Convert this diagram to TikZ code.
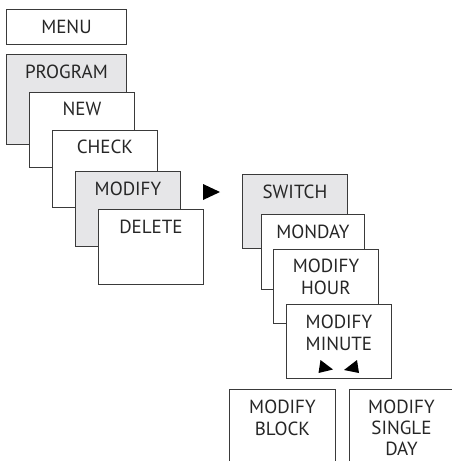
\documentclass[tikz,border=0pt]{standalone}
\usepackage{fontspec}
\setmainfont{PT Sans}
\definecolor{boxgray}{HTML}{E6E6E8}
\definecolor{edge}{HTML}{3A3A3A}
\tikzset{
  panel/.style={draw=edge, line width=0.9pt, fill=white, anchor=north west, inner sep=0pt},
  graypanel/.style={panel, fill=boxgray},
  lbl/.style={anchor=north, inner sep=0pt, align=center, text=black!85,
              font=\fontsize{19}{22}\selectfont},
}
\begin{document}
\begin{tikzpicture}[x=1pt,y=-1pt]
\useasboundingbox (0,0) rectangle (452,461);
\clip (0,0) rectangle (452,461);
% left column
\node[panel, minimum width=120pt, minimum height=35pt] (menu) at (6,9) {};
\node[lbl] (menut) at ([yshift=-11pt]menu.north) {MENU};
\node[graypanel, minimum width=120pt, minimum height=90pt] (program) at (6,54) {};
\node[lbl] (programt) at ([yshift=-11pt]program.north) {PROGRAM};
\node[panel, minimum width=105pt, minimum height=75pt] (new) at (29,92) {};
\node[lbl] (newt) at ([yshift=-10pt]new.north) {NEW};
\node[panel, minimum width=105pt, minimum height=77pt] (check) at (52,130) {};
\node[lbl] (checkt) at ([yshift=-10pt]check.north) {CHECK};
\node[graypanel, minimum width=105pt, minimum height=75pt] (modify) at (75,171) {};
\node[lbl] (modifyt) at ([yshift=-11pt]modify.north) {MODIFY};
\node[panel, minimum width=105pt, minimum height=75pt] (delete) at (98,209) {};
\node[lbl] (deletet) at ([yshift=-11pt]delete.north) {DELETE};
% arrow
\fill[black] (203,184) -- (203,200) -- (220,192) -- cycle;
% right column
\node[graypanel, minimum width=105pt, minimum height=74pt] (switch) at (242,174) {};
\node[lbl] (switcht) at ([yshift=-11pt]switch.north) {SWITCH};
\node[panel, minimum width=103pt, minimum height=75pt] (monday) at (261,214) {};
\node[lbl] (mondayt) at ([yshift=-11pt]monday.north) {MONDAY};
\node[panel, minimum width=105pt, minimum height=74pt] (hour) at (273,249) {};
\node[lbl] (hourt) at ([yshift=-10pt]hour.north) {MODIFY\\HOUR};
\node[panel, minimum width=105pt, minimum height=74pt] (minute) at (286,304) {};
\node[lbl] (minutet) at ([yshift=-11pt]minute.north) {MODIFY\\MINUTE};
\fill[black] (320.5,360) -- (318.5,373) -- (333,369.5) -- cycle;
\fill[black] (357,360) -- (359,373) -- (344,370) -- cycle;
% bottom row
\node[panel, minimum width=106pt, minimum height=90pt] (block) at (229,389) {};
\node[lbl] (blockt) at ([yshift=-11pt]block.north) {MODIFY\\BLOCK};
\node[panel, minimum width=110pt, minimum height=90pt] (single) at (349,389) {};
\node[lbl, font=\fontsize{19}{21}\selectfont] (singlet) at ([xshift=-3pt,yshift=-11pt]single.north) {MODIFY\\SINGLE\\DAY};
\end{tikzpicture}
\end{document}
